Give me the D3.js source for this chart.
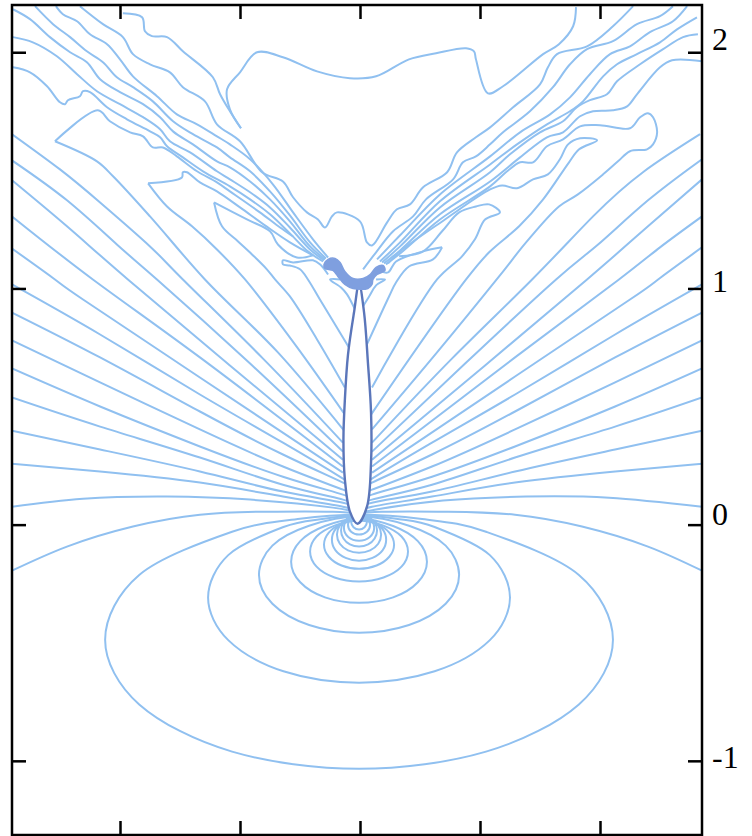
<!DOCTYPE html>
<html>
<head>
<meta charset="utf-8">
<script src="https://cdn.jsdelivr.net/npm/d3@7"></script>
<style>
  html, body { margin: 0; padding: 0; background: #fff; }
  svg { display: block; }
</style>
</head>
<body>
<div id="chart"></div>
<script>
// tick values
const xTicks = [-1, -0.5, 0, 0.5, 1];
const yTicks = [2, 1, 0, -1];
const yTickLabels = ["2", "1", "0", "-1"];

// closed contours below the drop
const lowerLoops = [
  [[-.004,.042],[-.25,.025],[-.533,-.03],[-.92,-.213],[-1.062,-.487],[-.92,-.761],[-.533,-.961],[-.004,-1.034],[.525,-.961],[.912,-.761],[1.054,-.487],[.912,-.213],[.525,-.03],[.25,.025]],
  [[-.004,.04],[-.15,.025],[-.319,-.01],[-.549,-.129],[-.633,-.309],[-.549,-.489],[-.319,-.621],[-.004,-.669],[.311,-.621],[.541,-.489],[.625,-.309],[.541,-.129],[.311,-.01],[.15,.025]],
  [[-.004,.034],[-.212,-.005],[-.365,-.089],[-.421,-.212],[-.365,-.335],[-.212,-.425],[-.004,-.458],[.204,-.425],[.357,-.335],[.413,-.212],[.357,-.089],[.204,-.005]],
  [[-.004,.025],[-.146,-.006],[-.249,-.07],[-.287,-.157],[-.249,-.244],[-.146,-.308],[-.004,-.331],[.138,-.308],[.241,-.244],[.279,-.157],[.241,-.07],[.138,-.006]],
  [[-.004,.02],[-.106,-.004],[-.181,-.05],[-.208,-.114],[-.181,-.178],[-.106,-.224],[-.004,-.241],[.098,-.224],[.173,-.178],[.2,-.114],[.173,-.05],[.098,-.004]],
  [[-.004,.017],[-.077,.003],[-.13,-.034],[-.15,-.085],[-.13,-.136],[-.077,-.173],[-.004,-.187],[.069,-.173],[.122,-.136],[.142,-.085],[.122,-.034],[.069,.003]],
  [[-.004,.025],[-.06,.013],[-.102,-.019],[-.117,-.064],[-.102,-.109],[-.06,-.141],[-.004,-.153],[.052,-.141],[.094,-.109],[.109,-.064],[.094,-.019],[.052,.013]],
  [[-.004,.035],[-.05,.025],[-.084,-.003],[-.096,-.042],[-.084,-.081],[-.05,-.109],[-.004,-.119],[.042,-.109],[.076,-.081],[.088,-.042],[.076,-.003],[.042,.025]],
  [[-.004,.043],[-.042,.034],[-.069,.009],[-.079,-.025],[-.069,-.059],[-.042,-.084],[-.004,-.093],[.034,-.084],[.061,-.059],[.071,-.025],[.061,.009],[.034,.034]],
  [[-.004,.042],[-.049,.026],[-.067,-.013],[-.049,-.052],[-.004,-.068],[.041,-.052],[.059,-.013],[.041,.026]],
  [[-.004,.042],[-.037,.03],[-.05,0],[-.037,-.03],[-.004,-.042],[.029,-.03],[.042,0],[.029,.03]],
  [[-.004,.047],[-.027,.037],[-.037,.013],[-.027,-.011],[-.004,-.021],[.019,-.011],[.029,.013],[.019,.037]]
];

// rays on the left side, frame to drop
const leftRays = [
  [[-1.45,-.195],[-1.221,-.093],[-.946,-.008],[-.667,.042],[-.388,.055],[-.113,.055],[-.008,.047]],
  [[-1.45,.076],[-1.154,.11],[-.804,.119],[-.458,.106],[-.113,.072],[-.008,.047]],
  [[-1.45,.258],[-1.083,.225],[-.667,.178],[-.321,.119],[-.071,.076],[-.021,.055]],
  [[-1.45,.398],[-1.083,.318],[-.667,.225],[-.321,.14],[-.071,.093],[-.021,.064]],
  [[-1.45,.538],[-1.083,.415],[-.667,.284],[-.321,.169],[-.071,.106],[-.033,.085]],
  [[-1.45,.661],[-1.083,.5],[-.667,.331],[-.321,.203],[-.071,.127],[-.033,.106]],
  [[-1.45,.78],[-1.083,.602],[-.667,.403],[-.321,.246],[-.071,.148],[-.042,.131]],
  [[-1.45,.898],[-1.083,.708],[-.667,.479],[-.321,.297],[-.071,.178],[-.042,.157]],
  [[-1.45,1.017],[-1.083,.805],[-.667,.551],[-.321,.347],[-.071,.195],[-.042,.174]],
  [[-1.45,1.169],[-1.271,1.038],[-1.154,.953],[-.667,.623],[-.071,.22]],
  [[-1.45,1.305],[-1.113,1.038],[-.667,.708],[-.071,.246]],
  [[-1.45,1.458],[-1.221,1.263],[-.967,1.038],[-.542,.674],[-.071,.275]],
  [[-1.45,1.542],[-1.221,1.373],[-1.013,1.186],[-.846,1.038],[-.458,.682],[-.071,.309]],
  [[-1.45,1.653],[-1.25,1.504],[-1.083,1.364],[-.875,1.178],[-.738,1.038],[-.404,.703],[-.071,.347]]
];

// rays on the right side, frame to drop
const rightRays = [
  [[1.425,-.195],[1.2,-.093],[.925,-.008],[.646,.042],[.367,.055],[.092,.055],[-.008,.047]],
  [[1.425,.076],[1.038,.114],[.692,.119],[.346,.102],[.067,.064],[-.008,.047]],
  [[1.425,.258],[1.063,.225],[.646,.178],[.3,.119],[.05,.076],[.013,.055]],
  [[1.425,.398],[1.063,.318],[.646,.225],[.3,.14],[.05,.093],[.013,.064]],
  [[1.425,.538],[1.063,.415],[.646,.284],[.3,.169],[.05,.106],[.021,.085]],
  [[1.425,.661],[1.063,.5],[.646,.331],[.3,.203],[.05,.127],[.021,.106]],
  [[1.425,.78],[1.063,.602],[.646,.403],[.3,.246],[.05,.148],[.021,.131]],
  [[1.425,.898],[1.063,.708],[.646,.479],[.3,.297],[.05,.178],[.021,.157]],
  [[1.425,1.017],[1.063,.805],[.646,.551],[.3,.347],[.05,.195],[.021,.174]],
  [[1.425,1.174],[1.242,1.038],[1.125,.953],[.646,.627],[.05,.22]],
  [[1.425,1.305],[1.25,1.174],[1.079,1.038],[.646,.708],[.05,.246]],
  [[1.425,1.462],[1.2,1.263],[.946,1.038],[.521,.674],[.05,.275]],
  [[1.425,1.547],[1.2,1.373],[.992,1.186],[.817,1.038],[.438,.682],[.05,.309]],
  [[1.417,1.653],[1.179,1.492],[.971,1.305],[.717,1.038],[.383,.703],[.05,.347]]
];

// wavy contours above the drop, left side
const leftCluster = [
  [[-1.271,1.623],[-1.096,1.538],[-1.029,1.475],[-.875,1.305],[-.646,1.038],[-.342,.729],[-.063,.394]],
  [[-.883,1.445],[-.804,1.347],[-.7,1.263],[-.596,1.165],[-.479,1.038],[-.271,.763],[-.063,.466]],
  [[-.608,1.364],[-.575,1.263],[-.508,1.199],[-.45,1.144],[-.388,1.081],[-.354,1.038],[-.292,.966],[-.179,.784],[-.063,.581]],
  [[-.133,1.059],[-.167,1.102],[-.196,1.119],[-.279,1.11],[-.321,1.119],[-.321,1.102],[-.292,1.097],[-.25,1.081],[-.217,1.038],[-.167,.953],[-.046,.75]],
  [[-.988,2.165],[-.908,2.148],[-.896,2.089],[-.867,2.068],[-.804,2.064],[-.738,2.004],[-.613,1.894],[-.583,1.822],[-.542,1.75],[-.496,1.678]],
  [[-1.267,2.195],[-1.238,2.161],[-1.179,2.131],[-1.125,2.076],[-1.054,2.034],[-1,1.97],[-.946,1.898],[-.846,1.814],[-.763,1.737],[-.679,1.695],[-.596,1.644],[-.542,1.61],[-.458,1.547],[-.363,1.441],[-.279,1.322],[-.196,1.208],[-.133,1.131]],
  [[-1.354,2.195],[-1.279,2.119],[-1.208,2.064],[-1.138,2.004],[-1.071,1.958],[-1.013,1.894],[-.946,1.852],[-.863,1.792],[-.779,1.708],[-.696,1.653],[-.596,1.597],[-.542,1.555],[-.458,1.496],[-.375,1.411],[-.292,1.309],[-.208,1.195],[-.142,1.127]],
  [[-1.446,2.182],[-1.375,2.14],[-1.292,2.064],[-1.208,2],[-1.138,1.958],[-1.083,1.886],[-1,1.831],[-.904,1.78],[-.833,1.725],[-.779,1.665],[-.696,1.61],[-.596,1.538],[-.542,1.513],[-.458,1.453],[-.375,1.377],[-.292,1.284],[-.208,1.178],[-.146,1.123]],
  [[-1.446,2.064],[-1.363,2.042],[-1.263,1.983],[-1.179,1.907],[-1.096,1.835],[-1,1.78],[-.904,1.725],[-.833,1.674],[-.792,1.623],[-.708,1.576],[-.596,1.496],[-.542,1.462],[-.458,1.407],[-.375,1.343],[-.292,1.258],[-.208,1.165],[-.15,1.119]],
  [[-1.446,1.936],[-1.375,1.915],[-1.304,1.856],[-1.25,1.788],[-1.229,1.78],[-1.217,1.797],[-1.167,1.814],[-1.154,1.835],[-1.125,1.831],[-1.054,1.767],[-.971,1.716],[-.875,1.665],[-.833,1.64],[-.804,1.602],[-.738,1.555],[-.654,1.496],[-.542,1.432],[-.458,1.377],[-.375,1.314],[-.292,1.233],[-.217,1.157],[-.154,1.114]],
  [[-1.271,1.623],[-1.092,1.754],[-1.042,1.708],[-.958,1.661],[-.904,1.644],[-.863,1.597],[-.821,1.597],[-.763,1.559],[-.679,1.496],[-.596,1.449],[-.542,1.411],[-.417,1.322],[-.333,1.258],[-.279,1.22]],
  [[-.883,1.445],[-.742,1.47],[-.738,1.492],[-.721,1.492],[-.667,1.449],[-.596,1.411],[-.5,1.343],[-.396,1.267],[-.292,1.195],[-.196,1.14]],
  [[-.608,1.364],[-.471,1.292],[-.375,1.242],[-.342,1.186],[-.263,1.131],[-.196,1.14]]
];

// wavy contours above the drop, right side
const rightCluster = [
  [[.013,1.081],[.067,1.153],[.138,1.242],[.221,1.305],[.275,1.377],[.388,1.462],[.429,1.534],[.483,1.559],[.542,1.61],[.596,1.661],[.708,1.75],[.804,1.852],[.875,1.949],[.946,2.013],[1.054,2.047],[1.154,2.119],[1.25,2.153],[1.304,2.195]],
  [[.071,1.123],[.167,1.225],[.333,1.398],[.542,1.559],[.667,1.661],[.792,1.737],[.875,1.809],[.958,1.907],[1.042,1.992],[1.125,2.025],[1.208,2.085],[1.304,2.131],[1.363,2.195]],
  [[.083,1.114],[.167,1.195],[.333,1.369],[.542,1.525],[.654,1.61],[.779,1.695],[.875,1.75],[.929,1.792],[1.013,1.898],[1.071,1.949],[1.154,1.992],[1.25,2.042],[1.321,2.097],[1.404,2.148]],
  [[.092,1.11],[.167,1.178],[.333,1.343],[.542,1.492],[.625,1.568],[.75,1.661],[.846,1.708],[.904,1.767],[.958,1.797],[1.029,1.822],[1.071,1.877],[1.167,1.949],[1.263,2.013],[1.346,2.064],[1.408,2.076]],
  [[.1,1.106],[.167,1.161],[.333,1.314],[.542,1.453],[.667,1.555],[.779,1.64],[.846,1.661],[.917,1.729],[.971,1.75],[1.054,1.754],[1.113,1.771],[1.154,1.822],[1.25,1.936],[1.3,1.966],[1.425,1.962]],
  [[.108,1.102],[.167,1.148],[.333,1.292],[.542,1.432],[.613,1.496],[.667,1.534],[.721,1.534],[.779,1.602],[.846,1.631],[.917,1.686],[1,1.691],[1.125,1.678],[1.167,1.725],[1.2,1.742],[1.221,1.725],[1.238,1.661],[1.221,1.61],[1.196,1.589],[1.125,1.581],[1.075,1.538],[1.013,1.483],[.908,1.398],[.829,1.347],[.692,1.195],[.583,1.055],[.321,.729],[.05,.403]],
  [[.117,1.106],[.167,1.157],[.354,1.292],[.542,1.419],[.592,1.436],[.654,1.424],[.721,1.462],[.783,1.483],[.833,1.547],[.867,1.61],[.917,1.636],[.988,1.627],[.913,1.589],[.871,1.534],[.763,1.377],[.663,1.263],[.538,1.153],[.442,1.038],[.046,.466]],
  [[.163,1.136],[.263,1.157],[.342,1.242],[.413,1.322],[.483,1.347],[.538,1.356],[.583,1.322],[.521,1.292],[.479,1.208],[.425,1.136],[.321,1.038],[.05,.581]],
  [[.342,1.174],[.304,1.123],[.204,1.093],[.15,1.025],[.121,.966],[.029,.763]],
  [[.342,1.174],[.263,1.157],[.15,1.114],[.117,1.068],[.088,1.072]]
];

// long contour running across the top, and the one that wiggles through the neck
const topContour = [[-.496,1.678],[-.542,1.758],[-.554,1.843],[-.5,1.915],[-.429,2],[-.321,1.979],[-.179,1.919],[-.042,1.89],[.067,1.898],[.204,1.97],[.317,1.996],[.442,2.017],[.475,2.004],[.483,1.97],[.533,1.826],[.596,1.856],[.763,1.992],[.829,2.034],[.888,2.11],[.9,2.191]];
const neckContour = [[-1.167,2.195],[-1.071,2.119],[-.988,2.064],[-.946,1.992],[-.875,1.949],[-.792,1.915],[-.738,1.852],[-.646,1.792],[-.596,1.695],[-.5,1.623],[-.408,1.492],[-.321,1.453],[-.279,1.386],[-.221,1.322],[-.175,1.292],[-.146,1.258],[-.117,1.305],[-.096,1.322],[0,1.284],[.029,1.195],[.05,1.182],[.113,1.28],[.154,1.335],[.208,1.356],[.263,1.428],[.363,1.492],[.404,1.576],[.483,1.64],[.542,1.682],[.638,1.767],[.75,1.864],[.783,1.936],[.821,1.992],[.946,2.025],[1.054,2.11],[1.138,2.195]];

// small arcs under the blob
const underArcs = [
  [[-.083,1.038],[-.125,1.038],[-.079,1.004],[-.054,.975],[-.017,.903]],
  [[.067,1.038],[.104,1.038],[.067,1.013],[.038,.966],[0,.903]]
];

// the drop outline and the blob at its top
const dropOutline = [[-.01,.004],[-.042,.055],[-.063,.191],[-.069,.36],[-.063,.53],[-.05,.72],[-.025,.898],[-.004,1.02],[.017,.898],[.033,.686],[.046,.475],[.046,.263],[.029,.076]];
const blobOutline = [[-.15,1.102],[-.133,1.123],[-.104,1.127],[-.083,1.11],[-.063,1.072],[-.029,1.042],[.013,1.042],[.042,1.059],[.067,1.089],[.096,1.097],[.104,1.076],[.071,1.059],[.054,1.038],[.05,1.017],[.033,1.0],[-.029,1],[-.063,1.017],[-.092,1.051],[-.113,1.076],[-.146,1.085]];

var width = 752;
var height = 836;
var plot = {left: 12, right: 702, top: 5, bottom: 835};

var svg = d3.select("#chart")
  .append("svg")
  .attr("width", width)
  .attr("height", height);

var x = d3.scaleLinear()
  .domain([-1.45, 1.425])
  .range([plot.left, plot.right]);

var y = d3.scaleLinear()
  .domain([-1.314, 2.2])
  .range([plot.bottom, plot.top]);

svg.append("clipPath")
  .attr("id", "plot-clip")
  .append("rect")
  .attr("x", plot.left)
  .attr("y", plot.top)
  .attr("width", plot.right - plot.left)
  .attr("height", plot.bottom - plot.top);

function linePath(curve) {
  return d3.line()
    .x(function(d) { return x(d[0]); })
    .y(function(d) { return y(d[1]); })
    .curve(curve);
}

var rayPath = linePath(d3.curveNatural);
var wavyPath = linePath(d3.curveCatmullRom);
var loopPath = linePath(d3.curveCatmullRomClosed.alpha(0));
var outlinePath = linePath(d3.curveCatmullRomClosed);

var g = svg.append("g").attr("clip-path", "url(#plot-clip)");

// contours
function drawContours(cls, lines, path) {
  g.selectAll("." + cls)
    .data(lines)
    .enter().append("path")
    .attr("class", cls)
    .attr("d", path)
    .attr("fill", "none")
    .attr("stroke", "#90c0f0")
    .attr("stroke-width", 2);
}

drawContours("ray", leftRays.concat(rightRays), rayPath);
drawContours("wavy", leftCluster.concat(rightCluster, underArcs, [topContour, neckContour]), wavyPath);
drawContours("loop", lowerLoops, loopPath);

// drop on top of the contours
g.append("path")
  .datum(dropOutline)
  .attr("d", outlinePath)
  .attr("fill", "#fff")
  .attr("stroke", "#5b76ba")
  .attr("stroke-width", 2.4);

g.append("path")
  .datum(blobOutline)
  .attr("d", outlinePath)
  .attr("fill", "#7f9fdf")
  .attr("stroke", "#7f9fdf")
  .attr("stroke-width", 1.5);

// frame and ticks
var tickLen = -14;

function styleAxis(sel) {
  sel.select(".domain").remove();
  sel.selectAll("line").attr("stroke", "#000").attr("stroke-width", 2.5);
}

svg.append("g")
  .attr("transform", "translate(0," + plot.top + ")")
  .call(d3.axisTop(x).tickValues(xTicks).tickSize(tickLen).tickFormat(""))
  .call(styleAxis);

svg.append("g")
  .attr("transform", "translate(0," + plot.bottom + ")")
  .call(d3.axisBottom(x).tickValues(xTicks).tickSize(tickLen).tickFormat(""))
  .call(styleAxis);

svg.append("g")
  .attr("transform", "translate(" + plot.left + ",0)")
  .call(d3.axisLeft(y).tickValues(yTicks).tickSize(tickLen).tickFormat(""))
  .call(styleAxis);

var labelShift = [-3, 3, 0, 7];

svg.append("g")
  .attr("transform", "translate(" + plot.right + ",0)")
  .call(d3.axisRight(y).tickValues(yTicks).tickSize(tickLen)
    .tickFormat(function(d, i) { return yTickLabels[i]; }))
  .call(styleAxis)
  .call(function(sel) {
    sel.selectAll("text")
      .attr("x", 10)
      .attr("dy", 0)
      .attr("y", function(d, i) { return labelShift[i]; })
      .attr("fill", "#000")
      .attr("font-family", "'Liberation Serif', serif")
      .attr("font-size", 32);
  });

svg.append("rect")
  .attr("x", plot.left)
  .attr("y", plot.top)
  .attr("width", plot.right - plot.left)
  .attr("height", plot.bottom - plot.top)
  .attr("fill", "none")
  .attr("stroke", "#000")
  .attr("stroke-width", 2.5);
</script>
</body>
</html>
